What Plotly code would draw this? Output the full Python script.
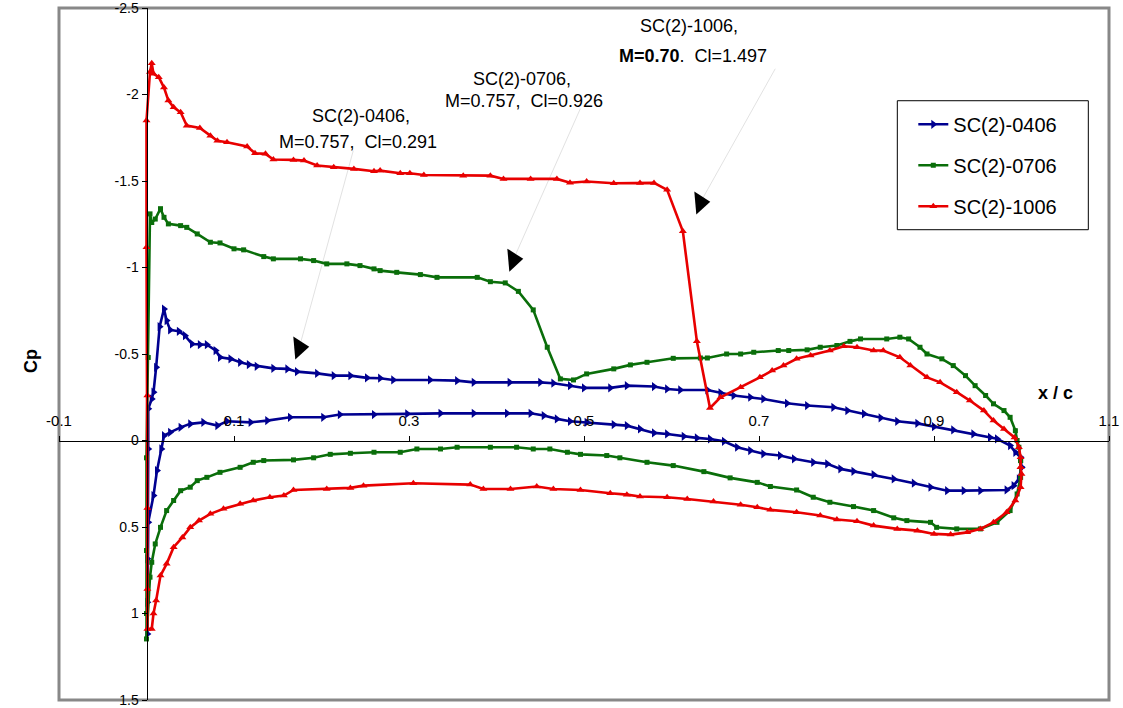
import plotly.graph_objects as go

# ---------------- data (x/c, Cp) ----------------
names = ["SC(2)-0406", "SC(2)-0706", "SC(2)-1006"]

x_0406 = [1.0, 0.999, 0.993, 0.987, 0.972, 0.964, 0.945, 0.922, 0.900, 0.881, 0.858, 0.839, 0.820, 0.801, 0.785,
          0.755, 0.732, 0.705, 0.690, 0.671, 0.656, 0.641, 0.610, 0.595, 0.580, 0.549, 0.530, 0.500, 0.484, 0.465,
          0.450, 0.415, 0.374, 0.355, 0.324, 0.282, 0.267, 0.252, 0.233, 0.214, 0.195, 0.172, 0.161, 0.145, 0.126,
          0.117, 0.107, 0.096, 0.084, 0.079, 0.069, 0.061, 0.052, 0.044, 0.037, 0.027, 0.023, 0.020, 0.015, 0.011,
          0.008, 0.006, 0.002, 0.002, 0.001, 0.001, 0.001,
          0.002, 0.008, 0.012, 0.017, 0.020, 0.027, 0.039, 0.050, 0.065, 0.081, 0.092, 0.119, 0.138, 0.164, 0.202,
          0.221, 0.260, 0.298, 0.336, 0.374, 0.412, 0.439, 0.454, 0.469, 0.484, 0.503, 0.534, 0.549, 0.564, 0.580,
          0.595, 0.614, 0.629, 0.644, 0.660, 0.675, 0.690, 0.705, 0.724, 0.740, 0.762, 0.778, 0.793, 0.808, 0.831,
          0.854, 0.877, 0.896, 0.915, 0.934, 0.953, 0.983, 0.991, 0.997, 1.0]
cp_0406 = [0.155, 0.097, 0.068, 0.029, -0.010, -0.018, -0.038, -0.061, -0.080, -0.099, -0.111, -0.131, -0.154, -0.173, -0.192,
           -0.202, -0.215, -0.240, -0.250, -0.260, -0.276, -0.292, -0.292, -0.298, -0.312, -0.317, -0.304, -0.304, -0.317, -0.331,
           -0.336, -0.336, -0.336, -0.346, -0.350, -0.350, -0.360, -0.362, -0.375, -0.375, -0.388, -0.398, -0.414, -0.417, -0.429,
           -0.439, -0.452, -0.472, -0.481, -0.520, -0.554, -0.554, -0.558, -0.606, -0.631, -0.639, -0.693, -0.760, -0.658, -0.423,
           -0.279, -0.240, -0.183, 0.049, 0.684, 0.935, 1.118,
           0.473, 0.318, 0.174, 0.049, -0.028, -0.047, -0.076, -0.096, -0.105, -0.086, -0.111, -0.105, -0.115, -0.134, -0.134,
           -0.150, -0.150, -0.154, -0.157, -0.157, -0.157, -0.157, -0.144, -0.125, -0.111, -0.105, -0.092, -0.086, -0.067, -0.044,
           -0.038, -0.024, -0.015, -0.009, 0.005, 0.039, 0.058, 0.077, 0.087, 0.106, 0.126, 0.135, 0.164, 0.178, 0.197,
           0.222, 0.247, 0.270, 0.290, 0.290, 0.290, 0.286, 0.261, 0.222, 0.155]

x_0706 = [0.999, 0.997, 0.995, 0.993, 0.987, 0.980, 0.968, 0.959, 0.947, 0.936, 0.922, 0.909, 0.892, 0.884, 0.871,
          0.861, 0.846, 0.816, 0.804, 0.789, 0.770, 0.755, 0.734, 0.722, 0.694, 0.679, 0.663, 0.641, 0.633, 0.602,
          0.572, 0.553, 0.534, 0.503, 0.488, 0.473, 0.458, 0.442, 0.425, 0.410, 0.393, 0.378, 0.332, 0.313, 0.286,
          0.267, 0.260, 0.244, 0.229, 0.206, 0.191, 0.176, 0.145, 0.134, 0.111, 0.100, 0.084, 0.073, 0.058, 0.046,
          0.039, 0.025, 0.020, 0.016, 0.010, 0.006, 0.004, 0.002, 0.000, 0.000, 0.000, 0.000,
          0.004, 0.006, 0.010, 0.016, 0.023, 0.031, 0.039, 0.050, 0.058, 0.069, 0.084, 0.107, 0.122, 0.134, 0.168,
          0.191, 0.210, 0.233, 0.260, 0.290, 0.309, 0.336, 0.355, 0.393, 0.423, 0.442, 0.461, 0.481, 0.496, 0.526,
          0.541, 0.572, 0.602, 0.637, 0.667, 0.698, 0.713, 0.743, 0.762, 0.781, 0.808, 0.831, 0.854, 0.869, 0.896,
          0.903, 0.926, 0.953, 0.972, 0.987, 0.995, 0.999, 0.999]
cp_0706 = [0.116, 0.039, 0.000, -0.057, -0.134, -0.173, -0.212, -0.260, -0.317, -0.375, -0.433, -0.472, -0.500, -0.539, -0.587,
           -0.597, -0.587, -0.587, -0.573, -0.549, -0.539, -0.524, -0.520, -0.520, -0.510, -0.500, -0.500, -0.477, -0.477, -0.475,
           -0.452, -0.437, -0.414, -0.385, -0.350, -0.356, -0.539, -0.755, -0.862, -0.911, -0.918, -0.943, -0.943, -0.959, -0.972,
           -0.982, -0.992, -1.011, -1.021, -1.021, -1.040, -1.050, -1.050, -1.063, -1.102, -1.108, -1.142, -1.146, -1.194, -1.232,
           -1.242, -1.252, -1.290, -1.340, -1.280, -1.260, -1.310, -0.480, 0.100, 0.636, 1.000, 1.147,
           0.790, 0.704, 0.598, 0.502, 0.405, 0.347, 0.290, 0.270, 0.232, 0.213, 0.184, 0.155, 0.126, 0.116, 0.112,
           0.100, 0.080, 0.074, 0.068, 0.068, 0.049, 0.049, 0.039, 0.039, 0.039, 0.049, 0.049, 0.068, 0.080, 0.087,
           0.100, 0.126, 0.145, 0.180, 0.216, 0.242, 0.266, 0.286, 0.328, 0.357, 0.382, 0.405, 0.447, 0.463, 0.473,
           0.502, 0.511, 0.511, 0.473, 0.405, 0.309, 0.213, 0.116]

x_1006 = [0.999, 0.999, 0.997, 0.992, 0.980, 0.968, 0.957, 0.941, 0.926, 0.907, 0.892, 0.873, 0.861, 0.842, 0.831,
          0.812, 0.797, 0.781, 0.759, 0.743, 0.728, 0.715, 0.701, 0.679, 0.656, 0.644, 0.629, 0.613, 0.595, 0.580,
          0.564, 0.534, 0.503, 0.484, 0.469, 0.439, 0.408, 0.393, 0.362, 0.317, 0.301, 0.290, 0.267, 0.260, 0.237,
          0.214, 0.195, 0.180, 0.168, 0.145, 0.136, 0.124, 0.115, 0.092, 0.081, 0.073, 0.061, 0.046, 0.039, 0.031,
          0.025, 0.020, 0.014, 0.008, 0.006, 0.004, 0.000, 0.000, 0.001, 0.001, 0.001, 0.001,
          0.006, 0.008, 0.011, 0.016, 0.023, 0.031, 0.041, 0.050, 0.060, 0.073, 0.088, 0.107, 0.122, 0.141, 0.157,
          0.168, 0.206, 0.233, 0.248, 0.305, 0.370, 0.385, 0.416, 0.446, 0.465, 0.496, 0.530, 0.549, 0.564, 0.595,
          0.618, 0.648, 0.679, 0.698, 0.713, 0.743, 0.770, 0.789, 0.812, 0.831, 0.858, 0.881, 0.900, 0.919, 0.938,
          0.953, 0.968, 0.983, 0.993, 0.999, 1.000, 0.999]
cp_1006 = [0.155, 0.097, 0.039, -0.018, -0.067, -0.115, -0.173, -0.231, -0.279, -0.336, -0.365, -0.433, -0.481, -0.520, -0.520,
           -0.539, -0.545, -0.520, -0.491, -0.472, -0.433, -0.404, -0.365, -0.308, -0.250, -0.188, -0.573, -1.209, -1.449, -1.489,
           -1.489, -1.487, -1.497, -1.490, -1.512, -1.512, -1.512, -1.531, -1.531, -1.535, -1.545, -1.545, -1.560, -1.556, -1.570,
           -1.580, -1.590, -1.618, -1.622, -1.624, -1.657, -1.660, -1.699, -1.724, -1.733, -1.762, -1.807, -1.820, -1.897, -1.926,
           -1.965, -2.040, -2.100, -2.120, -2.180, -2.130, -1.850, -1.117, -0.260, 0.390, 0.858, 1.089,
           1.089, 1.000, 0.925, 0.781, 0.713, 0.617, 0.560, 0.502, 0.463, 0.424, 0.395, 0.366, 0.347, 0.328, 0.318,
           0.286, 0.280, 0.274, 0.261, 0.247, 0.255, 0.280, 0.280, 0.266, 0.280, 0.286, 0.305, 0.313, 0.324, 0.328,
           0.338, 0.353, 0.371, 0.386, 0.401, 0.415, 0.434, 0.457, 0.467, 0.492, 0.511, 0.521, 0.540, 0.544, 0.531,
           0.511, 0.473, 0.415, 0.347, 0.270, 0.193, 0.155]

x_tickvals = [-0.1, 0.1, 0.3, 0.5, 0.7, 0.9, 1.1]
x_ticktext = ["-0.1", "0.1", "0.3", "0.5", "0.7", "0.9", "1.1"]
y_tickvals = [-2.5, -2.0, -1.5, -1.0, -0.5, 0.0, 0.5, 1.0, 1.5]
y_ticktext = ["-2.5", "-2", "-1.5", "-1", "-0.5", "0", "0.5", "1", "1.5"]

# annotation texts
ann_lines = [
    ["SC(2)-0406,", "M=0.757,  Cl=0.291"],
    ["SC(2)-0706,", "M=0.757,  Cl=0.926"],
    ["SC(2)-1006,", "<b>M=0.70</b>.  Cl=1.497"],
]

# ---------------- figure ----------------
FONT = "Liberation Sans, Arial, sans-serif"
colors = ["#000090", "#0a6e0a", "#e80000"]
symbols = ["triangle-right", "square", "triangle-up"]
msizes = [8, 5, 7]
series = [(x_0406, cp_0406), (x_0706, cp_0706), (x_1006, cp_1006)]

fig = go.Figure()
for i, (xs, ys) in enumerate(series):
    fig.add_trace(go.Scatter(
        x=xs, y=ys, mode="lines+markers", name=names[i], legendgroup=names[i],
        line=dict(color=colors[i], width=2.6),
        marker=dict(symbol=symbols[i], size=msizes[i], color=colors[i]),
    ))

# arrow geometry (text anchor -> arrow tip), in data units
arrow_start = [(0.2363, -1.675), (0.4958, -1.918), (0.7186, -2.149)]
arrow_tip = [(0.1746, -0.537), (0.4192, -1.045), (0.6329, -1.375)]
text_pos = [[(0.2455, -1.876), (0.2421, -1.727)],
            [(0.4295, -2.091), (0.4318, -1.964)],
            [(0.6203, -2.397), (0.6249, -2.224)]]

shapes = []
for (x0, y0), (x1, y1) in zip(arrow_start, arrow_tip):
    shapes.append(dict(type="line", xref="x", yref="y", x0=x0, y0=y0, x1=x1, y1=y1,
                       line=dict(color="#e2e2e2", width=1), layer="below"))
# plot-area border
shapes.append(dict(type="rect", xref="paper", yref="paper", x0=0, y0=0, x1=1, y1=1,
                   line=dict(color="#888888", width=3), layer="below"))
# legend box
shapes.append(dict(type="rect", xref="paper", yref="paper", x0=0.7984, x1=0.9803, y0=0.6796, y1=0.866,
                   line=dict(color="black", width=1), fillcolor="white", layer="above"))

fig.add_trace(go.Scatter(
    x=[p[0] for p in arrow_tip], y=[p[1] for p in arrow_tip], mode="markers", showlegend=False,
    marker=dict(symbol="triangle-right", size=20, color="black", angle=-5, line=dict(width=0)),
    hoverinfo="skip"))

annotations = []
for lines, pos in zip(ann_lines, text_pos):
    for txt, (ax_, ay_) in zip(lines, pos):
        annotations.append(dict(x=ax_, y=ay_, xref="x", yref="y", text=txt, showarrow=False,
                                font=dict(family=FONT, size=18, color="black"),
                                xanchor="center", yanchor="middle"))
annotations.append(dict(x=(1075 - 58.7) / 1050, y=1 - (392 - 7.2) / 692.3, xref="paper", yref="paper",
                        text="<b>x / c</b>", showarrow=False, font=dict(family=FONT, size=18, color="black")))
annotations.append(dict(x=(18 - 58.7) / 1050, y=1 - (360 - 7.2) / 692.3, xref="paper", yref="paper",
                        text="<b>Cp</b>", textangle=-90, showarrow=False,
                        font=dict(family=FONT, size=18, color="black")))

fig.update_layout(
    width=1123, height=708,
    margin=dict(l=59, r=14, t=8, b=8, autoexpand=False),
    paper_bgcolor="white", plot_bgcolor="white",
    font=dict(family=FONT, color="black"),
    xaxis=dict(range=[-0.1, 1.1], anchor="free", position=0.375, side="top", automargin=False,
               showline=True, linecolor="black", linewidth=1, ticks="outside", ticklen=5, tickcolor="black",
               tickvals=x_tickvals, ticktext=x_ticktext, showgrid=False, zeroline=False,
               ticklabeloverflow="allow", ticklabelstandoff=4,
               tickfont=dict(family=FONT, size=15, color="black")),
    yaxis=dict(range=[1.5, -2.5], anchor="free", position=0.1 / 1.2, side="left", automargin=False,
               showline=True, linecolor="black", linewidth=1, ticks="outside", ticklen=5, tickcolor="black",
               tickvals=y_tickvals, ticktext=y_ticktext, showgrid=False, zeroline=False,
               ticklabeloverflow="allow",
               tickfont=dict(family=FONT, size=14, color="black")),
    legend=dict(x=(913 - 58.7) / 1050, y=1 - (104 - 7.2) / 692.3, xanchor="left", yanchor="top",
                bgcolor="rgba(0,0,0,0)", borderwidth=0, font=dict(family=FONT, size=20, color="black"),
                tracegroupgap=12, traceorder="grouped"),
    shapes=shapes, annotations=annotations,
)

fig.write_html("out.html")
